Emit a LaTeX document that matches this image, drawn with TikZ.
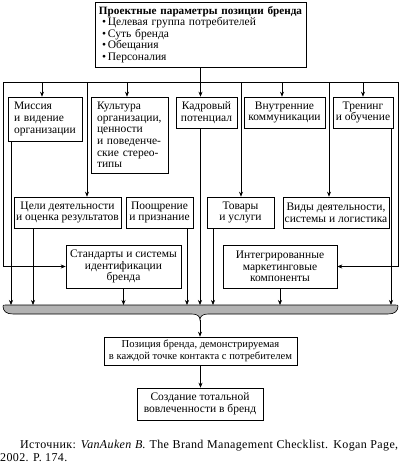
\documentclass[tikz,border=0pt]{standalone}
\usepackage{fontspec}
\setmainfont{Liberation Serif}
\usetikzlibrary{arrows.meta}
\begin{document}
\begin{tikzpicture}[x=1pt,y=-1pt,
  box/.style={draw, line width=0.6pt, inner sep=0pt, align=center, font=\fontsize{11.5}{11.6}\selectfont},
  ln/.style={line width=0.6pt},
  arr/.style={ln, -{Stealth[length=5pt,width=4pt]}},
]
\useasboundingbox (0,0) rectangle (401,467);
% boxes
\node[box, minimum width=211pt, minimum height=65pt, text width=203pt, align=left] (top) at (200.5,34.5)
  {\mbox{\fontsize{11.2}{11.6}\selectfont\bfseries Проектные параметры позиции бренда}\\
   \hspace*{3pt}•\,Целевая группа потребителей\\
   \hspace*{3pt}•\,Суть бренда\\
   \hspace*{3pt}•\,Обещания\\
   \hspace*{3pt}•\,Персоналия};
\node[box, minimum width=74pt, minimum height=44pt, text width=62pt, align=left] (mis) at (45,119)
  {Миссия\\и видение\\организации};
\node[box, minimum width=77pt, minimum height=76pt, text width=65pt, align=left] (kul) at (129.5,135)
  {Культура\\организации,\\ценности\\и поведенче-\\ские стерео-\\типы};
\node[box, minimum width=61pt, minimum height=31pt] (kad) at (206.5,112.5) {Кадровый\\потенциал};
\node[box, minimum width=81pt, minimum height=31pt] (vnu) at (284.5,112.5) {Внутренние\\коммуникации};
\node[box, minimum width=60pt, minimum height=31pt] (tre) at (363,112.5) {Тренинг\\и обучение};
\node[box, minimum width=107pt, minimum height=31pt] (cel) at (67.5,212.5) {Цели деятельности\\и оценка результатов};
\node[box, minimum width=67pt, minimum height=31pt] (poo) at (159.5,212.5) {Поощрение\\и признание};
\node[box, minimum width=67pt, minimum height=31pt] (tov) at (240.5,212.5) {Товары\\и услуги};
\node[box, minimum width=106pt, minimum height=31pt] (vid) at (336,212.5) {Виды деятельности,\\системы и логистика};
\node[box, minimum width=115pt, minimum height=43pt] (sta) at (123.5,266.5) {Стандарты и системы\\идентификации\\бренда};
\node[box, minimum width=114pt, minimum height=43pt] (int) at (280,266.5) {Интегрированные\\маркетинговые\\компоненты};
\node[box, minimum width=193pt, minimum height=28pt, font=\fontsize{10.6}{11.6}\selectfont] (poz) at (200.5,351) {Позиция бренда, демонстрируемая\\в каждой точке контакта с потребителем};
\node[box, minimum width=126pt, minimum height=32pt] (soz) at (200,404) {Создание тотальной\\вовлеченности в бренд};
% bus
\coordinate (busL) at (3,82);
\coordinate (busR) at (398,82);
\coordinate (d1) at (87,82);
\coordinate (d2) at (241,82);
\coordinate (d3) at (329,82);
\draw[ln] (busL) -- (busR);
\draw[arr] (top.south) -- (top.south |- kad.north);
\draw[arr] ([xshift=-3pt]mis.north |- busL) -- ([xshift=-3pt]mis.north);
\draw[arr] ([xshift=-2.5pt]kul.north |- busL) -- ([xshift=-2.5pt]kul.north);
\draw[arr] ([xshift=-2.5pt]vnu.north |- busL) -- ([xshift=-2.5pt]vnu.north);
\draw[arr] (tre.north |- busL) -- (tre.north);
\draw[arr] (d1) -- (d1 |- cel.north);
\draw[arr] (d2) -- (d2 |- tov.north);
\draw[arr] (d3) -- (d3 |- vid.north);
\draw[arr] (busL) |- (sta.west);
\draw[arr] (busR) |- (int.east);
% brace
\draw[ln, fill=gray!60] (3,306) .. controls (3,305) and (4,305) .. (6,305) -- (395,305)
  .. controls (397,305) and (398,305) .. (398,306)
  .. controls (398,311) and (395,314) .. (388,314) -- (208,314)
  .. controls (203,314) and (200,316) .. (200,320)
  .. controls (200,316) and (197,314) .. (192,314) -- (13,314)
  .. controls (6,314) and (3,311) .. (3,306) -- cycle;
\coordinate (b1) at (11,305);
\coordinate (b2) at (33,305);
\coordinate (b3) at (123.5,305);
\coordinate (b4) at (187,305);
\coordinate (b5) at (200,305);
\coordinate (b6) at (213,305);
\coordinate (b7) at (280,305);
\coordinate (b8) at (391,305);
\coordinate (cusp) at (200,320);
\draw[arr] (b1 |- mis.south) -- (b1);
\draw[arr] (b2 |- cel.south) -- (b2);
\draw[arr] (sta.south) -- (b3);
\draw[arr] (b4 |- poo.south) -- (b4);
\draw[arr] (b5 |- kad.south) -- (b5);
\draw[arr] (b6 |- tov.south) -- (b6);
\draw[arr] (int.south) -- (b7);
\draw[arr] (b8 |- tre.south) -- (b8);
\draw[arr] (cusp) -- (cusp |- poz.north);
\draw[arr] (poz.south) -- (poz.south |- soz.north);
% source
\node[anchor=north west, text width=398pt, align=justify, inner sep=0pt, font=\fontsize{12}{12.5}\selectfont\addfontfeature{LetterSpace=3}] (src) at (0,440)
  {\hspace*{20pt}Источник: \textit{VanAuken B.} The Brand Management Checklist. Kogan Page,\linebreak 2002. P. 174.};
\end{tikzpicture}
\end{document}
